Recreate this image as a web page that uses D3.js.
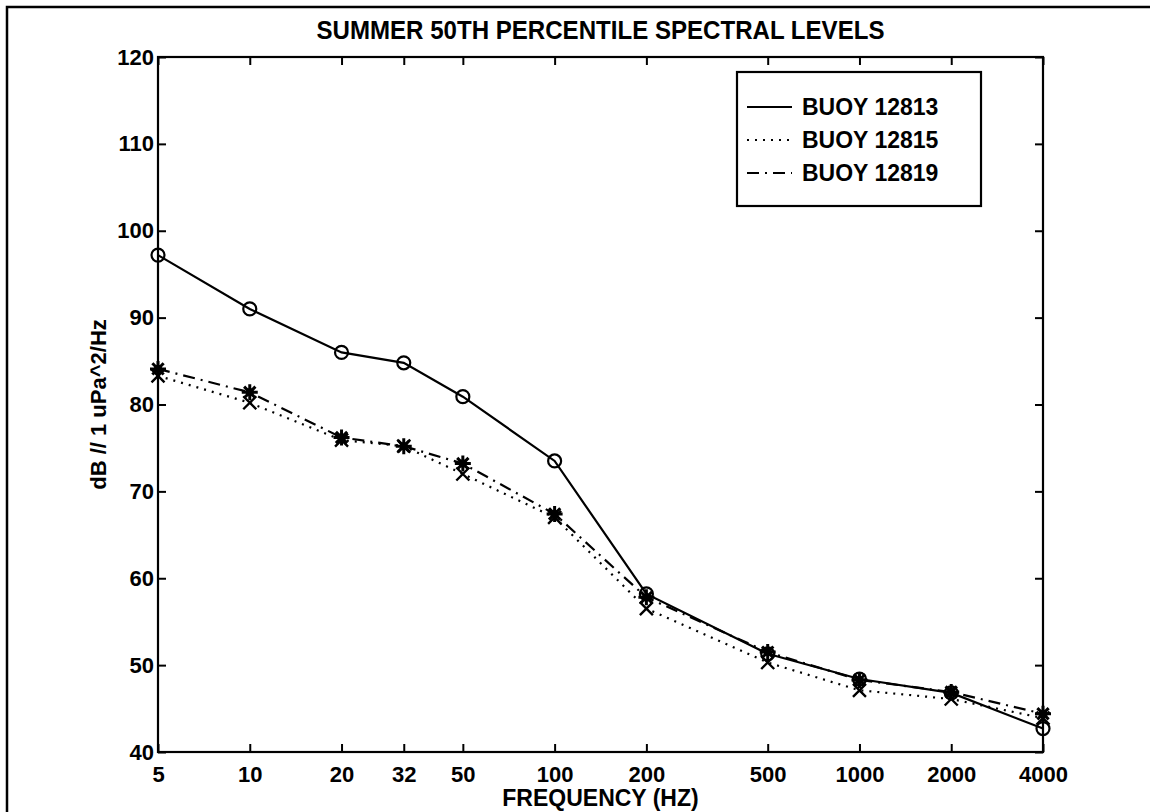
<!DOCTYPE html>
<html>
<head>
<meta charset="utf-8">
<script src="https://cdn.jsdelivr.net/npm/d3@7"></script>
<style>
  html, body { margin: 0; padding: 0; background: #fff; }
  svg { display: block; }
  text { font-family: "Liberation Sans", Arial, Helvetica, sans-serif; font-weight: bold; fill: #000; }
</style>
</head>
<body>
<svg id="chart" width="1150" height="812"></svg>
<script>
// Summer 50th percentile spectral levels at three buoys
const frequencies = [5, 10, 20, 32, 50, 100, 200, 500, 1000, 2000, 4000];
const freqTickLabels = ["5", "10", "20", "32", "50", "100", "200", "500", "1000", "2000", "4000"];
const levelTicks = [40, 50, 60, 70, 80, 90, 100, 110, 120];

const buoy12813 = [97.2, 91.0, 86.0, 84.8, 80.9, 73.5, 58.2, 51.3, 48.4, 46.8, 42.7];
const buoy12815 = [83.3, 80.2, 75.9, 75.2, 72.0, 67.0, 56.5, 50.3, 47.1, 46.1, 43.9];
const buoy12819 = [84.1, 81.4, 76.2, 75.2, 73.2, 67.4, 57.8, 51.5, 48.3, 46.9, 44.4];

const seriesNames = ["BUOY 12813", "BUOY 12815", "BUOY 12819"];

const svg = d3.select("#chart");
const plot = { left: 158, right: 1043, top: 57, bottom: 752 };

// outer figure frame (runs past the right and bottom edges)
svg.append("rect")
  .attr("x", 7).attr("y", 7)
  .attr("width", 1200).attr("height", 900)
  .attr("fill", "none").attr("stroke", "#000").attr("stroke-width", 2.5);

const x = d3.scaleLog().domain([5, 4000]).range([plot.left, plot.right]);
const y = d3.scaleLinear().domain([40, 120]).range([plot.bottom, plot.top]);

// plot box
svg.append("rect")
  .attr("x", plot.left).attr("y", plot.top)
  .attr("width", plot.right - plot.left).attr("height", plot.bottom - plot.top)
  .attr("fill", "none").attr("stroke", "#000").attr("stroke-width", 2.2);

const tickLen = 8;
const fontSize = 22;

// bottom axis: inward ticks and labels
const xBottom = svg.append("g").attr("transform", `translate(0,${plot.bottom})`)
  .call(d3.axisBottom(x).tickValues(frequencies)
    .tickFormat((d, i) => freqTickLabels[i]).tickSizeInner(-tickLen).tickSizeOuter(0).tickPadding(14));
xBottom.select(".domain").remove();
xBottom.selectAll("line").attr("stroke", "#000").attr("stroke-width", 2);
xBottom.selectAll("text").style("font-size", fontSize + "px").style("font-weight", "bold")
  .attr("font-family", "Liberation Sans, Arial, sans-serif");

// top axis: inward ticks only
const xTop = svg.append("g").attr("transform", `translate(0,${plot.top})`)
  .call(d3.axisTop(x).tickValues(frequencies).tickFormat("").tickSizeInner(-tickLen).tickSizeOuter(0));
xTop.select(".domain").remove();
xTop.selectAll("line").attr("stroke", "#000").attr("stroke-width", 2);

// left axis
const yLeft = svg.append("g").attr("transform", `translate(${plot.left},0)`)
  .call(d3.axisLeft(y).tickValues(levelTicks).tickSizeInner(-tickLen).tickSizeOuter(0).tickPadding(4));
yLeft.select(".domain").remove();
yLeft.selectAll("line").attr("stroke", "#000").attr("stroke-width", 2);
yLeft.selectAll("text").style("font-size", fontSize + "px").style("font-weight", "bold")
  .attr("font-family", "Liberation Sans, Arial, sans-serif");

// right axis: inward ticks only
const yRight = svg.append("g").attr("transform", `translate(${plot.right},0)`)
  .call(d3.axisRight(y).tickValues(levelTicks).tickFormat("").tickSizeInner(-tickLen).tickSizeOuter(0));
yRight.select(".domain").remove();
yRight.selectAll("line").attr("stroke", "#000").attr("stroke-width", 2);

// title (narrow, tall lettering) and axis labels
svg.append("text")
  .attr("x", (plot.left + plot.right) / 2).attr("y", 39)
  .attr("text-anchor", "middle").style("font-size", "26px")
  .attr("textLength", 568).attr("lengthAdjust", "spacingAndGlyphs")
  .text("SUMMER 50TH PERCENTILE SPECTRAL LEVELS");

svg.append("text")
  .attr("x", (plot.left + plot.right) / 2).attr("y", 806)
  .attr("text-anchor", "middle").style("font-size", "23px")
  .text("FREQUENCY (HZ)");

svg.append("text")
  .attr("transform", `translate(106,${(plot.top + plot.bottom) / 2}) rotate(-90)`)
  .attr("text-anchor", "middle").style("font-size", "22px")
  .text("dB // 1 uPa^2/Hz");

// line styles and markers
const styles = [
  { values: buoy12813, dash: null, marker: "circle" },
  { values: buoy12815, dash: "2,6", marker: "x" },
  { values: buoy12819, dash: "12,6,2,6", marker: "star" }
];

const line = d3.line().x(d => x(d[0])).y(d => y(d[1]));

function drawMarker(g, kind, cx, cy) {
  if (kind === "circle") {
    g.append("circle").attr("cx", cx).attr("cy", cy).attr("r", 6.5)
      .attr("fill", "none").attr("stroke", "#000").attr("stroke-width", 2.2);
  } else if (kind === "x") {
    const s = 6.5;
    g.append("path")
      .attr("d", `M${cx - s},${cy - s}L${cx + s},${cy + s}M${cx - s},${cy + s}L${cx + s},${cy - s}`)
      .attr("stroke", "#000").attr("stroke-width", 2.4).attr("fill", "none");
  } else {
    const s = 8;
    const d = d3.range(4).map(k => {
      const a = k * Math.PI / 4;
      const dx = s * Math.cos(a), dy = s * Math.sin(a);
      return `M${cx - dx},${cy - dy}L${cx + dx},${cy + dy}`;
    }).join("");
    g.append("path").attr("d", d).attr("stroke", "#000").attr("stroke-width", 3).attr("fill", "none");
    g.append("circle").attr("cx", cx).attr("cy", cy).attr("r", 4).attr("fill", "#000");
  }
}

styles.forEach(st => {
  const pts = frequencies.map((f, i) => [f, st.values[i]]);
  const g = svg.append("g");
  g.append("path").datum(pts).attr("d", line)
    .attr("fill", "none").attr("stroke", "#000").attr("stroke-width", 2.2)
    .attr("stroke-dasharray", st.dash);
  pts.forEach(p => drawMarker(g, st.marker, x(p[0]), y(p[1])));
});

// legend
const legend = svg.append("g");
legend.append("rect")
  .attr("x", 737).attr("y", 72).attr("width", 981 - 737).attr("height", 206 - 72)
  .attr("fill", "#fff").attr("stroke", "#000").attr("stroke-width", 2.2);
const rowY = [107, 140, 173];
styles.forEach((st, i) => {
  legend.append("line")
    .attr("x1", 747).attr("x2", 792).attr("y1", rowY[i]).attr("y2", rowY[i])
    .attr("stroke", "#000").attr("stroke-width", 2.2).attr("stroke-dasharray", st.dash);
  legend.append("text")
    .attr("x", 802).attr("y", rowY[i]).attr("dy", "0.36em")
    .style("font-size", "23px").text(seriesNames[i]);
});
</script>
</body>
</html>
